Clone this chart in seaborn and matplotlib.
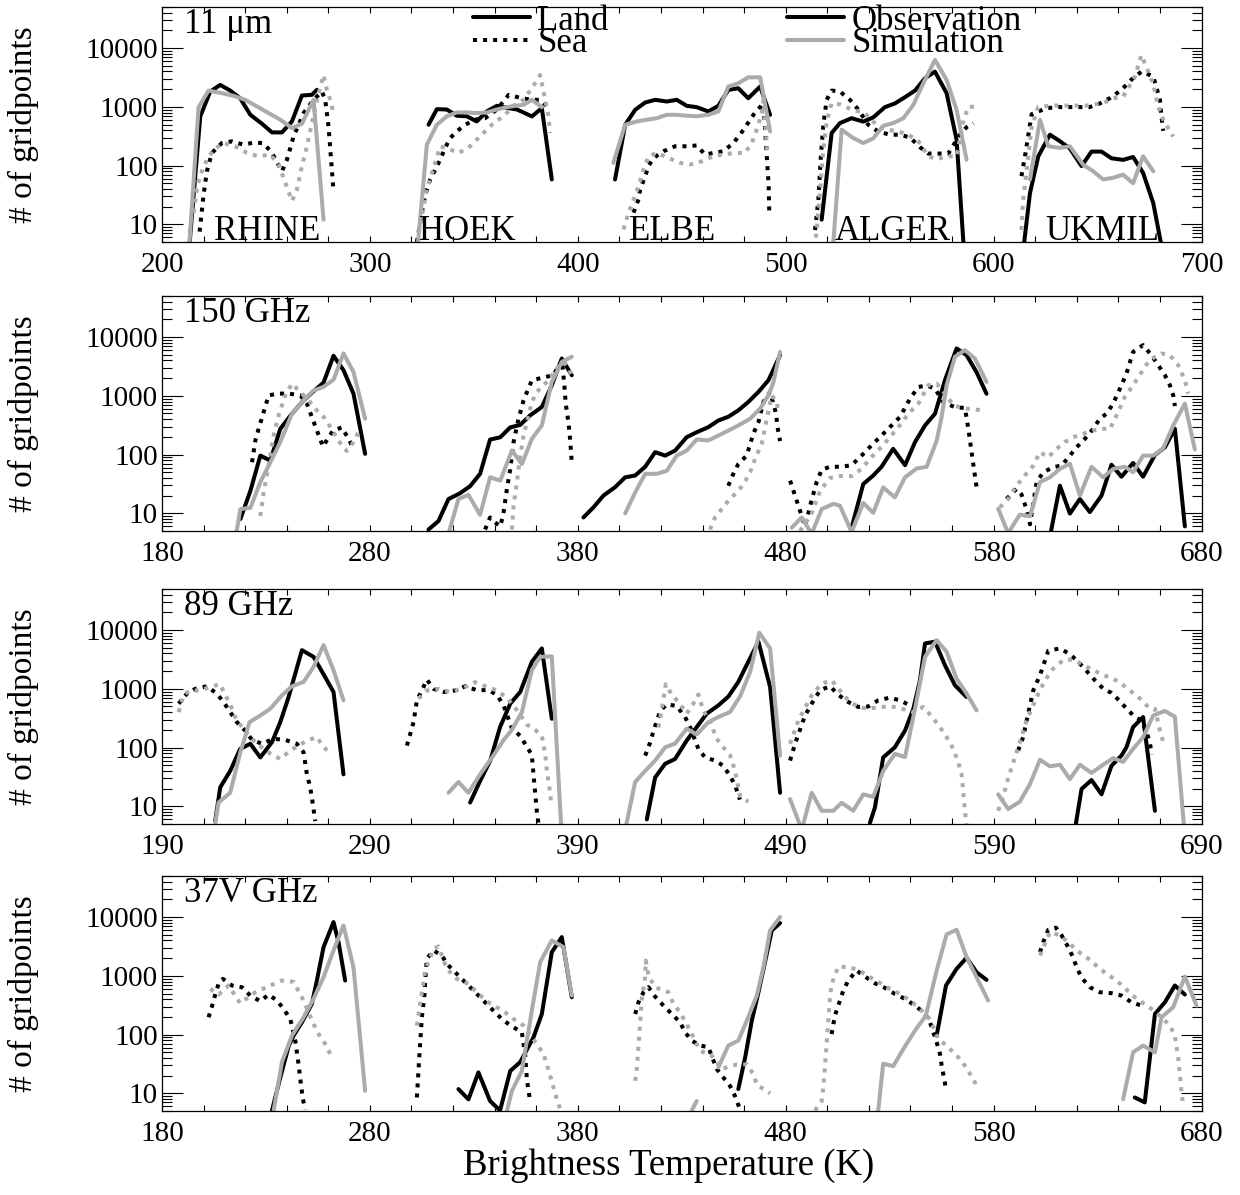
import numpy as np
import pandas as pd
import matplotlib
matplotlib.use("Agg")
import matplotlib.pyplot as plt
from matplotlib.lines import Line2D
from matplotlib.ticker import FixedLocator, LogLocator, NullFormatter
import seaborn as sns

# ---------------------------------------------------------------------------
# Histograms of brightness temperature (number of gridpoints per bin).
# Each region is shifted by 100 K along the axis; None marks a gap.
# ---------------------------------------------------------------------------

# ---- 11 um ----
IR_RHINE_LAND_OBS_T = [212.8, 218.4, 223.2, 228.0, 232.8, 237.6, 242.5, 248.1, 252.9, 257.7, 262.5, 267.3, 272.1, 274.5]
IR_RHINE_LAND_OBS_N = [3, 686, 1820, 2360, 1890, 1400, 731, 515, 367, 367, 564, 1556, 1600, 1950]
IR_RHINE_LAND_SIM_T = [212.8, 217.6, 222.4, 228.8, 234.4, 240.0, 245.7, 251.3, 256.9, 262.5, 267.3, 272.9, 277.7]
IR_RHINE_LAND_SIM_N = [3, 986, 1890, 1705, 1535, 1315, 1014, 782, 603, 435, 515, 1315, 12]
IR_RHINE_SEA_OBS_T = [218.1, 220.0, 221.6, 224.0, 228.8, 233.6, 239.2, 244.9, 248.9, 252.9, 257.7, 260.1, 263.3, 268.1, 272.9, 276.9, 278.5, 280.1, 281.7, 282.5]
IR_RHINE_SEA_OBS_N = [7.5, 32, 80, 164, 242, 258, 227, 249, 238, 164, 80, 126, 314, 782, 1315, 1820, 1315, 464, 85, 37]
IR_RHINE_SEA_SIM_T = [215.2, 217.1, 219.2, 221.6, 224.8, 229.6, 235.2, 240.9, 246.5, 252.1, 256.1, 259.3, 262.5, 264.9, 267.3, 269.7, 272.1, 274.5, 277.7, 279.3, 280.9, 282.5]
IR_RHINE_SEA_SIM_N = [15.8, 48, 80, 126, 187, 242, 213, 164, 144, 154, 104, 51, 25, 39, 98, 213, 528, 1315, 3480, 1940, 1315, 782]

IR_HOEK_LAND_OBS_T = [328.2, 332.2, 337.0, 341.8, 346.6, 351.4, 356.2, 361.1, 365.9, 370.7, 373.9, 377.9, 382.7, 387.5]
IR_HOEK_LAND_OBS_N = [495, 912, 900, 705, 690, 564, 834, 1040, 960, 900, 800, 686, 948, 58]
IR_HOEK_LAND_SIM_T = [322.6, 327.4, 332.2, 337.0, 341.8, 346.6, 351.4, 356.2, 361.1, 365.9, 370.7, 373.9, 377.9, 382.7]
IR_HOEK_LAND_SIM_N = [3, 227, 495, 690, 802, 802, 782, 802, 900, 986, 1050, 1080, 1315, 986]
IR_HOEK_SEA_OBS_T = [322.6, 325.8, 327.4, 329.0, 331.4, 333.8, 336.2, 338.6, 341.8, 345.8, 350.6, 355.4, 361.1, 366.7, 373.1, 377.9, 381.9, 386.7]
IR_HOEK_SEA_OBS_N = [5, 23, 39, 58, 85, 126, 200, 294, 382, 495, 603, 640, 900, 1595, 1400, 1315, 1315, 900]
IR_HOEK_SEA_SIM_T = [323.4, 325.8, 327.4, 330.6, 333.8, 338.6, 342.6, 347.4, 351.4, 355.4, 359.4, 364.3, 369.1, 373.9, 377.9, 381.9, 384.3, 385.9, 386.7]
IR_HOEK_SEA_SIM_N = [7, 20, 40, 90, 213, 187, 164, 200, 276, 382, 528, 690, 1050, 1315, 2070, 3480, 1315, 690, 358]

IR_ELBE_LAND_OBS_T = [417.9, 422.8, 427.6, 432.4, 437.2, 442.8, 447.6, 452.4, 457.2, 462.8, 467.6, 472.4, 477.2, 482.0, 487.7, 492.5]
IR_ELBE_LAND_OBS_N = [58, 495, 890, 1183, 1315, 1230, 1315, 1040, 986, 834, 1040, 1940, 2070, 1400, 2210, 731]
IR_ELBE_LAND_SIM_T = [417.1, 422.8, 428.4, 433.2, 438.0, 442.8, 447.6, 452.4, 457.2, 462.8, 467.6, 472.4, 477.2, 482.0, 487.7, 492.5]
IR_ELBE_LAND_SIM_N = [111, 495, 564, 603, 640, 731, 731, 705, 690, 731, 834, 2210, 2520, 3180, 3180, 382]
IR_ELBE_SEA_OBS_T = [426.8, 429.2, 430.0, 432.4, 434.0, 436.4, 441.2, 446.8, 452.4, 457.2, 461.2, 465.2, 470.0, 474.8, 478.0, 481.3, 484.5, 489.3, 490.4, 491.2, 491.8, 492.1]
IR_ELBE_SEA_OBS_N = [15.8, 26.5, 39, 66, 98, 135, 175, 213, 213, 220, 154, 164, 175, 242, 335, 495, 731, 1150, 276, 98, 46, 15.8]
IR_ELBE_SEA_SIM_T = [422.0, 424.4, 426.8, 429.2, 431.6, 434.0, 438.0, 443.6, 449.2, 454.0, 459.6, 465.2, 470.0, 475.6, 480.4, 483.7, 486.1, 488.5, 489.3, 490.5, 491.3]
IR_ELBE_SEA_SIM_N = [8.2, 15.8, 26, 44, 85, 144, 164, 135, 111, 104, 118, 144, 154, 164, 164, 242, 410, 782, 1315, 358, 144]

IR_ALGER_LAND_OBS_T = [517.3, 522.1, 526.1, 531.7, 537.3, 542.1, 547.7, 552.5, 557.4, 562.2, 567.0, 571.8, 577.4, 582.2, 586.2]
IR_ALGER_LAND_OBS_N = [12, 358, 528, 640, 560, 660, 986, 1140, 1460, 1890, 3060, 3970, 1705, 276, 2]
IR_ALGER_LAND_SIM_T = [522.1, 526.9, 532.5, 537.3, 542.1, 546.9, 551.7, 556.6, 561.4, 566.2, 571.8, 577.4, 582.2, 587.0]
IR_ALGER_LAND_SIM_N = [2, 408, 294, 242, 290, 476, 528, 640, 1080, 2520, 6270, 2870, 890, 126]
IR_ALGER_SEA_OBS_T = [514.1, 515.7, 516.8, 518.1, 519.7, 522.1, 526.1, 530.9, 534.9, 539.7, 544.5, 550.1, 555.0, 559.8, 564.6, 568.6, 573.4, 578.2, 583.8, 587.0, 590.2]
IR_ALGER_SEA_OBS_N = [8, 26, 126, 495, 1315, 1890, 1820, 1315, 900, 495, 380, 335, 335, 300, 205, 160, 160, 160, 335, 450, 528]
IR_ALGER_SEA_SIM_T = [514.1, 516.2, 517.8, 519.7, 522.1, 526.1, 531.7, 538.1, 543.7, 548.5, 554.1, 559.0, 563.8, 568.6, 572.6, 577.4, 582.2, 585.4, 587.8, 591.8]
IR_ALGER_SEA_SIM_N = [4, 26, 144, 560, 1150, 1100, 900, 780, 490, 410, 380, 335, 260, 144, 128, 144, 144, 560, 1000, 1000]

IR_UKMIL_LAND_OBS_T = [613.4, 617.5, 621.5, 627.1, 631.9, 636.7, 642.3, 647.1, 651.9, 656.7, 662.3, 667.1, 671.9, 676.8, 681.6]
IR_UKMIL_LAND_OBS_N = [2, 34, 144, 335, 260, 195, 98, 173, 173, 133, 125, 140, 75, 23, 3]
IR_UKMIL_LAND_SIM_T = [617.5, 622.3, 626.3, 631.9, 636.7, 643.1, 647.9, 652.7, 657.5, 662.3, 667.1, 671.9, 676.8]
IR_UKMIL_LAND_SIM_N = [58, 603, 213, 200, 213, 103, 80, 58, 62, 70, 50, 144, 80]
IR_UKMIL_SEA_OBS_T = [613.4, 615.1, 618.3, 625.5, 631.1, 635.9, 641.5, 646.3, 651.1, 655.9, 661.5, 666.3, 671.1, 676.8, 678.4, 680.0, 680.8, 681.6]
IR_UKMIL_SEA_OBS_N = [66, 144, 750, 948, 990, 990, 990, 990, 1140, 1400, 1940, 2900, 3970, 3300, 2100, 1315, 650, 390]
IR_UKMIL_SEA_SIM_T = [613.4, 614.2, 618.3, 621.5, 628.7, 636.7, 644.7, 652.7, 657.5, 662.3, 667.9, 671.1, 673.6, 676.8, 679.2, 681.6, 686.4]
IR_UKMIL_SEA_SIM_N = [8, 26, 450, 1000, 1050, 1050, 1050, 1150, 1400, 1490, 3200, 7600, 4700, 2400, 1000, 600, 310]

# ---- 150 GHz ----
G150_RHINE_LAND_OBS_T = [217.7, 222.5, 227.3, 232.1, 236.9, 242.5, 248.1, 252.9, 257.7, 262.5, 267.3, 272.1, 277.7]
G150_RHINE_LAND_OBS_N = [8, 24, 96, 79, 275, 495, 838, 1195, 1680, 4800, 2730, 1090, 103]
G150_RHINE_LAND_SIM_T = [215.7, 217.7, 222.5, 227.3, 232.9, 236.9, 242.5, 248.1, 252.9, 257.7, 262.5, 267.3, 272.1, 277.7]
G150_RHINE_LAND_SIM_N = [4.5, 11.8, 12.4, 34, 84, 163, 495, 838, 1230, 1420, 1880, 5260, 2550, 408]
G150_RHINE_SEA_OBS_T = [223.3, 224.9, 226.5, 228.9, 231.3, 236.1, 240.9, 246.5, 249.7, 252.9, 257.4, 262.2, 266.5, 269.7, 272.1]
G150_RHINE_SEA_OBS_N = [74, 173, 275, 530, 1020, 1090, 1090, 1020, 735, 365, 137, 255, 290, 185, 126]
G150_RHINE_SEA_SIM_T = [227.3, 228.9, 231.3, 233.7, 236.1, 239.3, 242.5, 246.5, 250.5, 254.5, 258.5, 262.5, 266.5, 268.9, 272.1, 274.5]
G150_RHINE_SEA_SIM_N = [9, 22.7, 65, 211, 465, 1020, 1610, 1155, 838, 565, 408, 240, 142, 115, 162, 240]

G150_HOEK_LAND_OBS_T = [308.2, 313.0, 317.8, 323.4, 328.2, 333.0, 337.8, 342.7, 347.5, 352.3, 357.1, 362.7, 367.5, 372.3, 377.1]
G150_HOEK_LAND_OBS_N = [5.3, 7.4, 17.5, 22, 29, 47, 180, 197, 290, 320, 465, 645, 1510, 4310, 2240]
G150_HOEK_LAND_SIM_T = [317.8, 322.6, 327.4, 333.0, 337.8, 342.7, 348.3, 353.1, 357.9, 362.7, 367.5, 372.3, 377.1]
G150_HOEK_LAND_SIM_N = [4.5, 17.5, 20.6, 9.4, 41, 36, 117, 69, 185, 313, 1725, 3780, 4610]
G150_HOEK_SEA_OBS_T = [335.4, 337.8, 340.2, 342.7, 344.2, 345.9, 347.5, 349.1, 351.5, 353.9, 357.9, 363.5, 368.3, 372.3, 373.4, 374.2, 375.5, 376.3, 377.1]
G150_HOEK_SEA_OBS_N = [5.3, 8.5, 7, 6, 9.8, 26, 56, 163, 408, 838, 1840, 2050, 2250, 4050, 1730, 730, 355, 180, 74]
G150_HOEK_SEA_SIM_T = [348.3, 349.1, 350.7, 352.3, 353.9, 356.3, 357.9, 360.3, 363.5, 366.7, 369.9, 373.1, 375.5, 377.1]
G150_HOEK_SEA_SIM_N = [5.3, 13.4, 34, 96, 211, 465, 785, 1165, 1515, 1970, 2920, 3790, 2920, 2240]

G150_ELBE_LAND_OBS_T = [382.7, 387.5, 392.3, 398.0, 402.8, 407.6, 412.4, 417.2, 422.0, 426.8, 432.4, 437.2, 442.8, 447.6, 452.4, 457.2, 462.0, 466.9, 471.7, 477.3]
G150_ELBE_LAND_OBS_N = [8.5, 12.6, 20, 28, 41, 44, 62, 110, 96, 117, 198, 240, 293, 380, 440, 565, 785, 1165, 1840, 4920]
G150_ELBE_LAND_SIM_T = [402.8, 407.6, 412.4, 418.0, 422.8, 427.6, 432.4, 437.2, 442.8, 447.6, 452.4, 457.2, 462.9, 467.7, 471.7, 474.1, 477.3]
G150_ELBE_LAND_SIM_N = [10, 22.7, 47, 47, 53, 96, 117, 181, 174, 211, 256, 313, 408, 605, 1020, 1700, 5600]
G150_ELBE_SEA_OBS_T = [452.4, 454.8, 457.2, 461.2, 464.5, 466.9, 469.3, 472.5, 475.4, 476.0, 477.3]
G150_ELBE_SEA_OBS_N = [29.5, 47, 69, 96, 230, 357, 790, 1165, 495, 300, 170]
G150_ELBE_SEA_SIM_T = [443.6, 446.0, 452.4, 456.4, 459.6, 462.9, 465.3, 468.5, 470.9, 473.3, 475.7, 476.5]
G150_ELBE_SEA_SIM_N = [5.3, 8.5, 16.3, 22.7, 31, 50, 85, 153, 408, 1020, 785, 530]

G150_ALGER_LAND_OBS_T = [511.7, 517.3, 522.1, 526.1, 531.7, 537.4, 542.2, 547.0, 551.8, 556.6, 562.2, 567.0, 571.8, 576.6]
G150_ALGER_LAND_OBS_N = [5.7, 31.5, 44, 62, 125, 66, 163, 313, 495, 1840, 6400, 4920, 2520, 1085]
G150_ALGER_LAND_SIM_T = [482.9, 487.7, 492.5, 497.3, 502.9, 506.1, 511.7, 517.3, 522.1, 526.9, 532.5, 537.4, 543.0, 547.8, 552.6, 555.0, 557.4, 561.4, 566.2, 571.0, 576.6]
G150_ALGER_LAND_SIM_N = [5.7, 8.5, 4.5, 11.8, 14.5, 13.5, 4.8, 15, 10.2, 27.6, 18.7, 41, 58, 62, 172, 435, 1510, 4610, 6000, 4310, 1725]
G150_ALGER_SEA_OBS_T = [482.1, 484.5, 486.9, 489.3, 492.5, 494.9, 497.3, 501.3, 506.9, 511.7, 516.5, 521.3, 526.1, 530.9, 535.0, 539.8, 543.8, 547.8, 551.8, 555.8, 561.4, 566.2, 567.8, 569.4, 571.0, 571.8]
G150_ALGER_SEA_OBS_N = [36, 20, 11, 6, 17, 34, 55, 62, 62, 66, 96, 144, 211, 313, 437, 895, 1415, 1500, 1330, 780, 640, 620, 282, 110, 44, 28]
G150_ALGER_SEA_SIM_T = [486.9, 492.5, 496.5, 501.3, 506.1, 511.7, 516.5, 521.3, 526.1, 530.9, 535.0, 539.0, 543.8, 548.6, 552.6, 556.6, 560.6, 565.4, 570.2, 575.0]
G150_ALGER_SEA_SIM_N = [5, 10, 24, 40, 43, 43, 57, 91, 135, 212, 320, 495, 735, 1515, 1610, 1090, 695, 610, 595, 555]

G150_UKMIL_LAND_OBS_T = [607.1, 611.9, 616.7, 621.5, 626.3, 631.9, 636.7, 641.5, 647.1, 651.9, 657.6, 662.4, 667.2, 672.0]
G150_UKMIL_LAND_OBS_N = [4, 29.5, 9.9, 17.5, 10.5, 20, 67, 42, 72, 42, 99, 133, 275, 6]
G150_UKMIL_LAND_SIM_T = [582.2, 587.0, 592.6, 597.5, 602.3, 607.1, 611.9, 616.7, 621.5, 627.1, 632.7, 637.5, 643.1, 647.1, 651.9, 656.8, 661.6, 666.4, 672.0, 676.8]
G150_UKMIL_LAND_SIM_N = [12, 4.6, 9.5, 8.9, 34, 41, 57, 70, 20, 62, 41, 57, 62, 50, 96, 96, 128, 313, 735, 122]
G150_UKMIL_SEA_OBS_T = [586.2, 591.0, 593.4, 595.8, 597.5, 600.7, 603.9, 608.7, 612.7, 616.7, 619.9, 623.9, 627.9, 631.1, 634.3, 637.5, 641.5, 643.9, 647.1, 651.9, 655.9, 659.2, 662.4, 664.8, 666.4, 667.2]
G150_UKMIL_SEA_OBS_N = [17.5, 26, 21, 11.8, 6.5, 34, 50, 61, 65, 96, 133, 185, 275, 407, 495, 735, 1515, 2390, 5610, 7290, 4920, 3320, 2240, 1515, 1020, 670]
G150_UKMIL_SEA_SIM_T = [583.0, 587.0, 591.0, 595.0, 599.1, 602.3, 606.3, 610.3, 614.3, 618.3, 623.1, 627.9, 632.7, 635.9, 639.9, 643.1, 647.1, 651.1, 654.4, 657.6, 660.8, 664.8, 668.8, 672.0, 673.6]
G150_UKMIL_SEA_SIM_N = [12.6, 17.5, 29.5, 44, 65, 110, 90, 125, 163, 198, 225, 257, 275, 270, 530, 955, 1515, 2490, 3790, 4610, 5260, 4920, 3320, 1840, 1090]

# ---- 89 GHz ----
G89_RHINE_LAND_OBS_T = [215.6, 218.0, 222.8, 227.6, 232.5, 237.3, 242.9, 246.9, 250.9, 257.3, 262.9, 267.7, 272.5, 277.3]
G89_RHINE_LAND_OBS_N = [5.6, 21, 40, 95, 116, 68, 124, 271, 726, 4550, 3500, 1770, 883, 35]
G89_RHINE_LAND_SIM_T = [215.6, 217.2, 222.8, 227.6, 232.1, 237.3, 242.1, 247.7, 252.5, 258.1, 262.9, 267.7, 272.5, 277.3]
G89_RHINE_LAND_SIM_N = [5.1, 11.6, 17, 81, 271, 352, 458, 775, 1105, 1310, 2360, 5540, 2075, 637]
G89_RHINE_SEA_OBS_T = [198.0, 202.0, 206.0, 211.6, 216.4, 219.6, 222.8, 226.0, 230.0, 233.3, 238.1, 243.7, 249.3, 254.9, 258.1, 259.7, 261.3, 262.1, 262.9, 263.7]
G89_RHINE_SEA_OBS_N = [558, 828, 1000, 1105, 828, 596, 402, 271, 195, 135, 116, 141, 135, 116, 83, 35, 21, 14, 9, 5.6]
G89_RHINE_SEA_SIM_T = [198.0, 200.4, 203.6, 208.4, 213.2, 218.0, 220.4, 222.8, 225.2, 228.4, 232.5, 235.7, 242.1, 246.9, 251.7, 255.7, 259.7, 264.5, 267.7, 271.7]
G89_RHINE_SEA_SIM_N = [402, 790, 936, 936, 1080, 1200, 790, 540, 330, 223, 151, 116, 79, 64, 89, 108, 131, 151, 101, 79]

G89_HOEK_LAND_OBS_T = [338.2, 343.0, 347.9, 352.6, 357.5, 362.3, 367.9, 372.7, 377.5]
G89_HOEK_LAND_OBS_N = [11.6, 27, 60, 223, 558, 883, 2880, 4870, 309]
G89_HOEK_LAND_SIM_T = [327.8, 332.6, 337.4, 343.0, 349.4, 354.0, 358.3, 363.1, 367.9, 371.9, 377.5, 382.3]
G89_HOEK_LAND_SIM_N = [17, 26, 17, 35, 73, 130, 200, 402, 2070, 3500, 3560, 3]
G89_HOEK_SEA_OBS_T = [307.8, 309.4, 311.0, 312.6, 315.0, 317.4, 320.6, 325.4, 331.0, 335.8, 341.4, 347.1, 351.1, 354.3, 358.3, 362.3, 367.9, 368.7, 369.5, 370.3, 371.1]
G89_HOEK_SEA_OBS_N = [108, 170, 271, 637, 936, 1435, 1000, 883, 936, 1105, 950, 950, 790, 522, 212, 158, 75, 34, 17, 8.2, 5.1]
G89_HOEK_SEA_SIM_T = [313.4, 317.4, 323.0, 328.6, 334.2, 340.6, 346.2, 351.1, 355.1, 359.1, 365.5, 369.5, 372.7, 374.3, 375.1, 375.9, 376.7, 377.1]
G89_HOEK_SEA_SIM_N = [682, 936, 1000, 883, 1000, 1300, 1080, 936, 737, 522, 247, 200, 158, 79, 41, 26, 17, 11.5]

G89_ELBE_LAND_OBS_T = [423.2, 427.2, 432.0, 436.8, 442.4, 447.2, 452.0, 457.6, 462.4, 467.2, 472.0, 476.9, 482.5, 487.3]
G89_ELBE_LAND_OBS_N = [6, 31, 53, 64, 132, 223, 377, 522, 737, 1310, 2880, 6330, 1075, 17]
G89_ELBE_LAND_SIM_T = [412.8, 417.6, 422.4, 427.2, 432.0, 436.8, 442.4, 447.2, 452.8, 457.6, 463.2, 468.0, 472.9, 477.3, 482.5, 487.3]
G89_ELBE_LAND_SIM_N = [4, 26, 40, 60, 101, 117, 210, 167, 271, 331, 402, 737, 1940, 9000, 4870, 73]
G89_ELBE_SEA_OBS_T = [422.4, 424.8, 426.4, 429.6, 432.8, 437.6, 441.6, 444.0, 448.0, 451.2, 456.0, 460.0, 463.2, 465.6, 468.0]
G89_ELBE_SEA_OBS_N = [73, 122, 191, 419, 545, 510, 331, 223, 95, 68, 60, 49, 33, 23, 13]
G89_ELBE_SEA_SIM_T = [428.8, 430.6, 432.3, 435.2, 438.4, 442.4, 446.4, 448.0, 450.4, 453.6, 456.8, 460.0, 463.2, 464.8, 466.4, 468.0, 472.0]
G89_ELBE_SEA_SIM_N = [220, 500, 1200, 790, 600, 377, 620, 800, 420, 280, 141, 101, 75, 50, 30, 15, 12]

G89_ALGER_LAND_OBS_T = [530.5, 532.9, 536.9, 542.5, 547.4, 551.4, 554.6, 557.0, 561.8, 566.6, 571.4, 577.0]
G89_ALGER_LAND_OBS_N = [5.2, 9.5, 68, 101, 195, 458, 1400, 5910, 6350, 2520, 1150, 726]
G89_ALGER_LAND_SIM_T = [492.1, 497.7, 502.5, 507.3, 512.9, 516.9, 522.5, 527.3, 532.1, 536.9, 542.5, 547.4, 552.2, 557.0, 562.6, 567.4, 572.2, 577.0, 581.8]
G89_ALGER_LAND_SIM_N = [13.3, 4, 17, 8.4, 8.4, 11.5, 8.4, 16, 14.5, 40, 78, 69, 458, 3500, 6740, 4270, 1490, 828, 430]
G89_ALGER_SEA_OBS_T = [492.1, 494.5, 499.3, 502.5, 506.5, 511.3, 515.3, 520.1, 524.9, 529.7, 534.5, 540.1, 544.9, 549.8]
G89_ALGER_SEA_OBS_N = [60, 116, 352, 558, 944, 1105, 790, 596, 490, 500, 637, 707, 637, 522]
G89_ALGER_SEA_SIM_T = [492.1, 496.1, 502.5, 507.3, 512.1, 516.1, 520.1, 524.9, 528.9, 535.3, 540.9, 545.8, 551.4, 556.2, 560.2, 564.2, 567.4, 570.6, 573.0, 574.6, 575.4, 576.2, 577.0]
G89_ALGER_SEA_SIM_N = [116, 290, 775, 1227, 1400, 936, 637, 490, 458, 490, 500, 458, 400, 490, 340, 223, 151, 95, 56, 35, 18, 8.3, 4.8]

G89_UKMIL_LAND_OBS_T = [629.1, 632.3, 637.1, 641.9, 646.7, 651.5, 653.9, 657.1, 661.9, 667.6]
G89_UKMIL_LAND_OBS_N = [4, 19.7, 28, 16, 49, 73, 101, 223, 330, 8.4]
G89_UKMIL_LAND_SIM_T = [592.2, 597.0, 602.6, 607.5, 612.3, 617.1, 621.9, 626.7, 631.5, 637.1, 642.7, 647.5, 652.3, 657.1, 661.9, 666.8, 672.4, 677.2, 682.0]
G89_UKMIL_LAND_SIM_N = [16, 9, 12, 24, 62, 48, 51, 29, 51, 37, 51, 66, 57, 95, 150, 352, 420, 335, 3]
G89_UKMIL_SEA_OBS_T = [601.8, 604.2, 606.6, 609.1, 612.3, 616.3, 621.9, 626.7, 630.7, 634.7, 638.7, 642.7, 646.7, 650.7, 654.0, 658.0, 661.1, 663.6, 665.2, 666.0]
G89_UKMIL_SEA_OBS_N = [89, 150, 377, 944, 1700, 4440, 4870, 3890, 2880, 2020, 1400, 1008, 849, 620, 458, 330, 290, 183, 119, 76]
G89_UKMIL_SEA_SIM_T = [592.2, 594.6, 597.0, 599.4, 603.4, 605.9, 608.3, 611.5, 614.7, 618.7, 623.5, 628.3, 633.1, 637.9, 642.7, 647.5, 652.3, 656.3, 660.4, 664.4, 667.6, 670.0, 671.6]
G89_UKMIL_SEA_SIM_N = [8.4, 14.5, 30, 55, 150, 290, 458, 828, 1400, 2210, 3080, 3160, 2540, 2090, 1710, 1500, 1155, 890, 685, 490, 458, 195, 124]

# ---- 37V GHz ----
G37_RHINE_LAND_OBS_T = [232.9, 236.9, 241.0, 243.3, 247.3, 252.1, 254.5, 257.7, 262.5, 264.9, 268.1]
G37_RHINE_LAND_OBS_N = [5.1, 18.6, 65, 96, 162, 333, 832, 3080, 8220, 3750, 832]
G37_RHINE_LAND_SIM_T = [233.7, 237.7, 242.5, 248.1, 252.9, 257.7, 262.5, 267.3, 272.1, 277.7]
G37_RHINE_LAND_SIM_N = [5.1, 34, 96, 197, 405, 948, 2700, 7210, 1400, 11]
G37_RHINE_SEA_OBS_T = [202.4, 204.0, 205.6, 207.2, 209.3, 213.6, 218.4, 222.5, 227.3, 231.3, 235.3, 238.5, 241.7, 244.1, 245.7, 246.5, 247.8, 248.9]
G37_RHINE_SEA_OBS_N = [197, 299, 480, 730, 887, 684, 640, 461, 369, 480, 379, 273, 184, 79, 31, 17.5, 7.9, 5.3]
G37_RHINE_SEA_SIM_T = [203.2, 207.2, 212.0, 217.6, 224.9, 232.1, 237.7, 243.3, 248.1, 252.9, 255.3, 258.5, 260.9]
G37_RHINE_SEA_SIM_N = [600, 480, 684, 341, 526, 684, 832, 790, 379, 151, 102, 69, 47]

G37_HOEK_LAND_OBS_T = [322.6, 327.4, 332.2, 337.8, 342.6, 347.5, 352.3, 358.7, 362.7, 367.5, 372.3, 377.1]
G37_HOEK_LAND_OBS_N = [11.8, 7.9, 22.7, 7.4, 5.1, 24, 34, 90, 224, 2530, 4560, 432]
G37_HOEK_LAND_SIM_T = [345.9, 348.3, 353.1, 357.9, 361.9, 367.5, 373.1, 377.1]
G37_HOEK_LAND_SIM_N = [5, 11, 24, 256, 1710, 4000, 3080, 461]
G37_HOEK_SEA_OBS_T = [302.6, 303.9, 305.0, 306.3, 306.6, 307.4, 310.6, 314.6, 317.0, 321.0, 325.0, 329.0, 333.0, 337.0, 340.2, 344.3, 349.1, 353.1, 353.9, 354.7, 355.5, 356.3, 357.1]
G37_HOEK_SEA_OBS_N = [8.5, 50, 197, 492, 832, 1950, 2700, 2220, 1600, 1150, 832, 600, 432, 311, 239, 173, 133, 109, 69, 44, 17.5, 11, 7.4]
G37_HOEK_SEA_SIM_T = [302.6, 306.6, 310.6, 313.0, 317.0, 321.8, 327.4, 332.2, 337.0, 341.0, 345.0, 349.1, 353.9, 360.3, 363.5, 365.1, 366.7, 368.3, 369.9, 371.5]
G37_HOEK_SEA_SIM_N = [142, 1230, 2880, 3160, 1315, 887, 730, 492, 355, 292, 239, 184, 142, 69, 47, 31, 20, 12.6, 8, 5.4]

G37_ELBE_LAND_OBS_T = [457.2, 460.5, 463.7, 466.9, 470.9, 473.3, 477.3]
G37_ELBE_LAND_OBS_N = [11.8, 41, 173, 526, 2370, 5930, 7900]
G37_ELBE_LAND_SIM_T = [434.8, 437.2, None, 447.6, 452.4, 457.2, 461.3, 466.1, 469.3, 472.5, 477.3]
G37_ELBE_LAND_SIM_N = [5.1, 7.4, None, 27.6, 65, 79, 173, 461, 1400, 5930, 10000]
G37_ELBE_SEA_OBS_T = [407.6, 409.2, 411.6, 414.0, 417.2, 421.2, 425.2, 429.2, 431.6, 434.8, 438.8, 442.8, 446.8, 450.0, 453.2, 455.6, 457.7]
G37_ELBE_SEA_OBS_N = [224, 355, 526, 640, 444, 311, 224, 162, 109, 79, 65, 61, 26, 18.6, 13.4, 9, 5.7]
G37_ELBE_SEA_SIM_T = [407.6, 408.4, 410.0, 410.8, 412.4, 412.7, 414.0, 417.2, 423.6, 426.0, 429.2, 434.0, 438.8, 444.4, 449.2, 456.4, 461.3, 464.5, 466.1, 472.5]
G37_ELBE_SEA_SIM_N = [16.3, 26, 162, 405, 948, 1820, 1010, 640, 526, 333, 239, 117, 53, 44, 26, 31, 31, 21, 14, 10]

G37_ALGER_LAND_OBS_T = [552.6, 557.1, 562.2, 567.0, 571.8, 576.6]
G37_ALGER_LAND_OBS_N = [96, 684, 1315, 2030, 1150, 853]
G37_ALGER_LAND_SIM_T = [524.5, 526.9, 531.7, 536.6, 542.2, 547.4, 552.6, 557.4, 562.2, 567.0, 571.8, 577.4]
G37_ALGER_LAND_SIM_N = [5.1, 32, 29, 57, 117, 210, 1230, 5070, 6080, 2080, 948, 379]
G37_ALGER_SEA_OBS_T = [502.1, 502.9, 504.2, 507.7, 510.1, 514.1, 518.1, 522.9, 527.7, 532.5, 537.4, 542.2, 546.2, 549.4, 552.6, 554.2, 555.0, 556.1, 557.1]
G37_ALGER_SEA_OBS_N = [102, 151, 239, 561, 832, 1230, 973, 748, 624, 492, 405, 311, 240, 162, 74, 47, 30, 18.6, 11.8]
G37_ALGER_SEA_SIM_T = [494.1, 497.3, 498.1, 498.9, 500.5, 501.3, 502.1, 505.3, 510.1, 514.9, 520.5, 526.1, 530.1, 535.0, 539.8, 543.8, 548.6, 551.0, 553.4, 557.4, 560.6, 564.6, 570.2, 572.6]
G37_ALGER_SEA_SIM_N = [5.1, 7.4, 12.6, 29, 173, 432, 730, 1440, 1400, 1264, 948, 730, 600, 492, 379, 292, 197, 133, 84, 65, 50, 36, 17.5, 11.8]

G37_UKMIL_LAND_OBS_T = [647.9, 652.7, 657.6, 662.4, 667.2, 672.0]
G37_UKMIL_LAND_OBS_N = [8.5, 7, 224, 355, 684, 480]
G37_UKMIL_LAND_SIM_T = [642.3, 647.1, 651.9, 657.6, 660.8, 666.4, 672.0, 677.6]
G37_UKMIL_LAND_SIM_N = [7.9, 50, 65, 50, 197, 292, 973, 311]
G37_UKMIL_SEA_OBS_T = [602.3, 604.2, 606.3, 610.0, 612.7, 615.9, 618.3, 620.2, 622.8, 626.3, 631.1, 636.7, 641.5, 646.3, 651.1]
G37_UKMIL_SEA_OBS_N = [2530, 4000, 6080, 6590, 4880, 3080, 2030, 1315, 887, 640, 526, 506, 461, 355, 311]
G37_UKMIL_SEA_SIM_T = [602.3, 607.1, 611.9, 615.9, 619.9, 624.7, 630.3, 634.3, 639.1, 647.9, 656.0, 660.8, 664.8, 667.2, 668.0, 668.8, 669.3, 669.9, 670.4, 670.9]
G37_UKMIL_SEA_SIM_N = [2220, 5560, 4880, 3750, 2700, 2080, 1400, 1080, 832, 432, 273, 197, 142, 96, 61, 41, 26, 16.3, 10.3, 7.4]

# ---------------------------------------------------------------------------
PANELS = [("IR", "11 \u03bcm", 200), ("G150", "150 GHz", 180),
          ("G89", "89 GHz", 190), ("G37", "37V GHz", 180)]
REGIONS = ["RHINE", "HOEK", "ELBE", "ALGER", "UKMIL"]
REGION_LABEL_T = [250.4, 347.0, 445.6, 551.4, 652.3]
SURFACES = [("LAND", "Land"), ("SEA", "Sea")]
SOURCES = [("OBS", "Observation"), ("SIM", "Simulation")]
GRAY = "#ababab"

rows = []
for pkey, plabel, t0 in PANELS:
    for region in REGIONS:
        for skey, sname in SURFACES:
            for okey, oname in SOURCES:
                base = f"{pkey}_{region}_{skey}_{okey}"
                t_vals = globals()[base + "_T"]
                n_vals = globals()[base + "_N"]
                seg = 0
                for t, n in zip(t_vals, n_vals):
                    if t is None:
                        seg += 1
                        continue
                    rows.append(dict(panel=plabel, surface=sname, source=oname,
                                     unit=f"{base}_{seg}", T=t, count=n))
df = pd.DataFrame(rows)

sns.set_theme(style="ticks")
plt.rcParams["font.family"] = ["Liberation Serif", "DejaVu Serif"]
plt.rcParams.update({"text.color": "black", "axes.labelcolor": "black",
                     "xtick.color": "black", "ytick.color": "black",
                     "axes.edgecolor": "black"})

W, H = 1240, 1195
fig = plt.figure(figsize=(W / 100, H / 100), dpi=100)

left_px, right_px = 162.0, 1201.5
panel_h = 235.0
tops_px = [7.0, 296.0, 589.0, 876.0]

for i, (pkey, plabel, t0) in enumerate(PANELS):
    top = tops_px[i]
    ax = fig.add_axes([left_px / W, (H - top - panel_h) / H,
                       (right_px - left_px) / W, panel_h / H])
    ax.set_yscale("log")
    sub = df[df["panel"] == plabel]
    sns.lineplot(data=sub, x="T", y="count", hue="source", style="surface",
                 units="unit", estimator=None, sort=False,
                 hue_order=["Observation", "Simulation"],
                 style_order=["Land", "Sea"],
                 palette={"Observation": "black", "Simulation": GRAY},
                 dashes={"Land": "", "Sea": (1, 1.5)},
                 linewidth=2.9, legend=False, ax=ax)

    ax.set_xlim(t0, t0 + 500)
    ax.set_ylim(5, 50000)
    ax.xaxis.set_major_locator(FixedLocator(np.arange(t0, t0 + 501, 100)))
    ax.xaxis.set_minor_locator(FixedLocator(np.arange(t0, t0 + 501, 20)))
    ax.set_xticklabels([str(v) for v in np.arange(t0, t0 + 501, 100)])
    ax.yaxis.set_major_locator(FixedLocator([10, 100, 1000, 10000]))
    ax.set_yticklabels(["10", "100", "1000", "10000"])
    ax.yaxis.set_minor_locator(LogLocator(base=10, subs=np.arange(2, 10)))
    ax.yaxis.set_minor_formatter(NullFormatter())
    ax.tick_params(axis="both", which="both", direction="in",
                   top=True, right=True, labelsize=21, colors="black")
    ax.tick_params(axis="x", which="major", length=4.5, width=0.8, pad=7)
    ax.tick_params(axis="x", which="minor", length=4.5, width=0.8)
    ax.tick_params(axis="y", which="major", length=15, width=0.8, pad=3)
    ax.tick_params(axis="y", which="minor", length=7.5, width=0.8)
    for sp in ax.spines.values():
        sp.set_linewidth(0.9)
        sp.set_color("black")

    ax.set_xlabel("")
    ax.set_ylabel("# of gridpoints", fontsize=24)
    ax.yaxis.set_label_coords(-0.118, 0.5)

    ax.text(0.021, 1 - 26 / panel_h, plabel, transform=ax.transAxes,
            fontsize=25, va="baseline", ha="left")

    if i == 0:
        tr = ax.get_xaxis_transform()
        for name, tx in zip(REGIONS, REGION_LABEL_T):
            ax.text(tx, 0.008, name, transform=tr, fontsize=25,
                    ha="center", va="baseline")
        h_surface = [Line2D([], [], color="black", lw=2.9),
                     Line2D([], [], color="black", lw=2.9, dashes=(1, 1.5))]
        leg1 = ax.legend(h_surface, ["Land", "Sea"], loc="upper left",
                         bbox_to_anchor=((473 - left_px) / (right_px - left_px), 1.01),
                         frameon=False, fontsize=25, handlelength=1.65,
                         handletextpad=0.2, labelspacing=-0.3,
                         borderpad=0, borderaxespad=0)
        ax.add_artist(leg1)
        h_source = [Line2D([], [], color="black", lw=2.9),
                    Line2D([], [], color=GRAY, lw=2.9)]
        ax.legend(h_source, ["Observation", "Simulation"], loc="upper left",
                  bbox_to_anchor=((787 - left_px) / (right_px - left_px), 1.01),
                  frameon=False, fontsize=25, handlelength=1.65,
                  handletextpad=0.2, labelspacing=-0.3,
                  borderpad=0, borderaxespad=0)

    if i == len(PANELS) - 1:
        ax.set_xlabel("Brightness Temperature (K)", fontsize=26.5)
        ax.xaxis.set_label_coords(0.487, -0.16)

fig.savefig("out.png", dpi=100)
